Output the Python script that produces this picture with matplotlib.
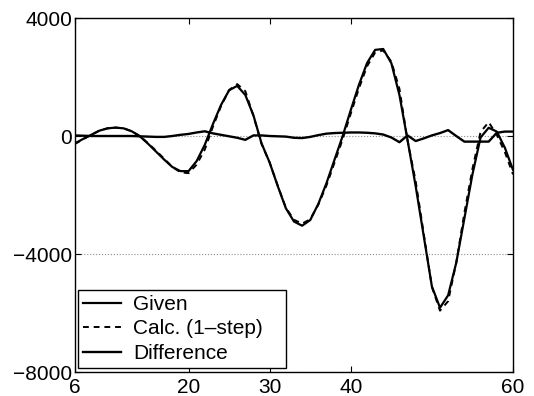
import numpy as np
import matplotlib.pyplot as plt

plt.rcParams['font.family'] = ['Liberation Sans', 'DejaVu Sans']

# Muestras (paso = 1)
t = np.arange(6, 61)

given = [-250, -100, 40, 180, 260, 285, 260, 160, -10, -260,
         -530, -800, -1050, -1190, -1190, -850, -300, 400, 1050, 1550,
         1700, 1390, 700, -250, -900, -1700, -2450, -2900, -3040, -2850,
         -2300, -1600, -800, 0, 880, 1730, 2470, 2920, 2950, 2470,
         1390, -140, -1700, -3400, -5100, -5820, -5400, -4300, -2800, -1300,
         -50, 280, 150, -400, -1150]

calc = [-270, -110, 40, 180, 260, 285, 260, 160, 0, -240,
        -500, -770, -1050, -1230, -1260, -970, -460, 310, 1010, 1560,
        1760, 1520, 680, -270, -900, -1690, -2430, -2840, -2970, -2820,
        -2330, -1680, -900, -110, 760, 1610, 2360, 2830, 2900, 2520,
        1600, -160, -1530, -3320, -5120, -5920, -5600, -4300, -2610, -1110,
        140, 470, 40, -550, -1300]

difference = [20, 10, 0, 0, 0, 0, 0, 0, -10, -20,
              -30, -30, 0, 40, 70, 120, 160, 90, 40, -10,
              -60, -130, 20, 20, 0, -10, -20, -60, -70, -30,
              30, 80, 100, 110, 120, 120, 110, 90, 50, -50,
              -210, 20, -170, -80, 20, 100, 200, 0, -190, -190,
              -190, -190, 110, 150, 150]

xticks = [6, 20, 30, 40, 60]
yticks = [-8000, -4000, 0, 4000]

fig = plt.figure(figsize=(5.34, 3.96), dpi=100)
ax = fig.add_axes([0.1404, 0.0606, 0.8203, 0.8939])

ax.plot(t, given, 'k-', lw=1.6, label='Given')
ax.plot(t, calc, 'k--', lw=1.4, dashes=(3, 2.5), label='Calc. (1\u2013step)')
ax.plot(t, difference, 'k-', lw=1.7, label='Difference')

ax.set_xlim(6, 60)
ax.set_ylim(-8000, 4000)
ax.set_xticks(xticks)
ax.set_yticks(yticks)
ax.tick_params(direction='in', top=True, right=True, length=4,
               labelsize=15, width=0.8)
ax.tick_params(axis='x', pad=4)
ax.tick_params(axis='y', pad=2)
ax.yaxis.grid(True, linestyle=':', color='0.55', linewidth=0.8)

for s in ax.spines.values():
    s.set_linewidth(1.0)

# leyenda abajo a la izquierda, ancho fijo
leg = ax.legend(loc='lower left', bbox_to_anchor=(0.007, 0.011, 0.475, 0.2),
                mode='expand', fontsize=15, fancybox=False,
                framealpha=1, edgecolor='k', handlelength=1.8,
                handletextpad=0.6, borderaxespad=0,
                labelspacing=0.26, borderpad=0.25)
leg.get_frame().set_linewidth(1.0)

fig.savefig('out.png', dpi=100)
